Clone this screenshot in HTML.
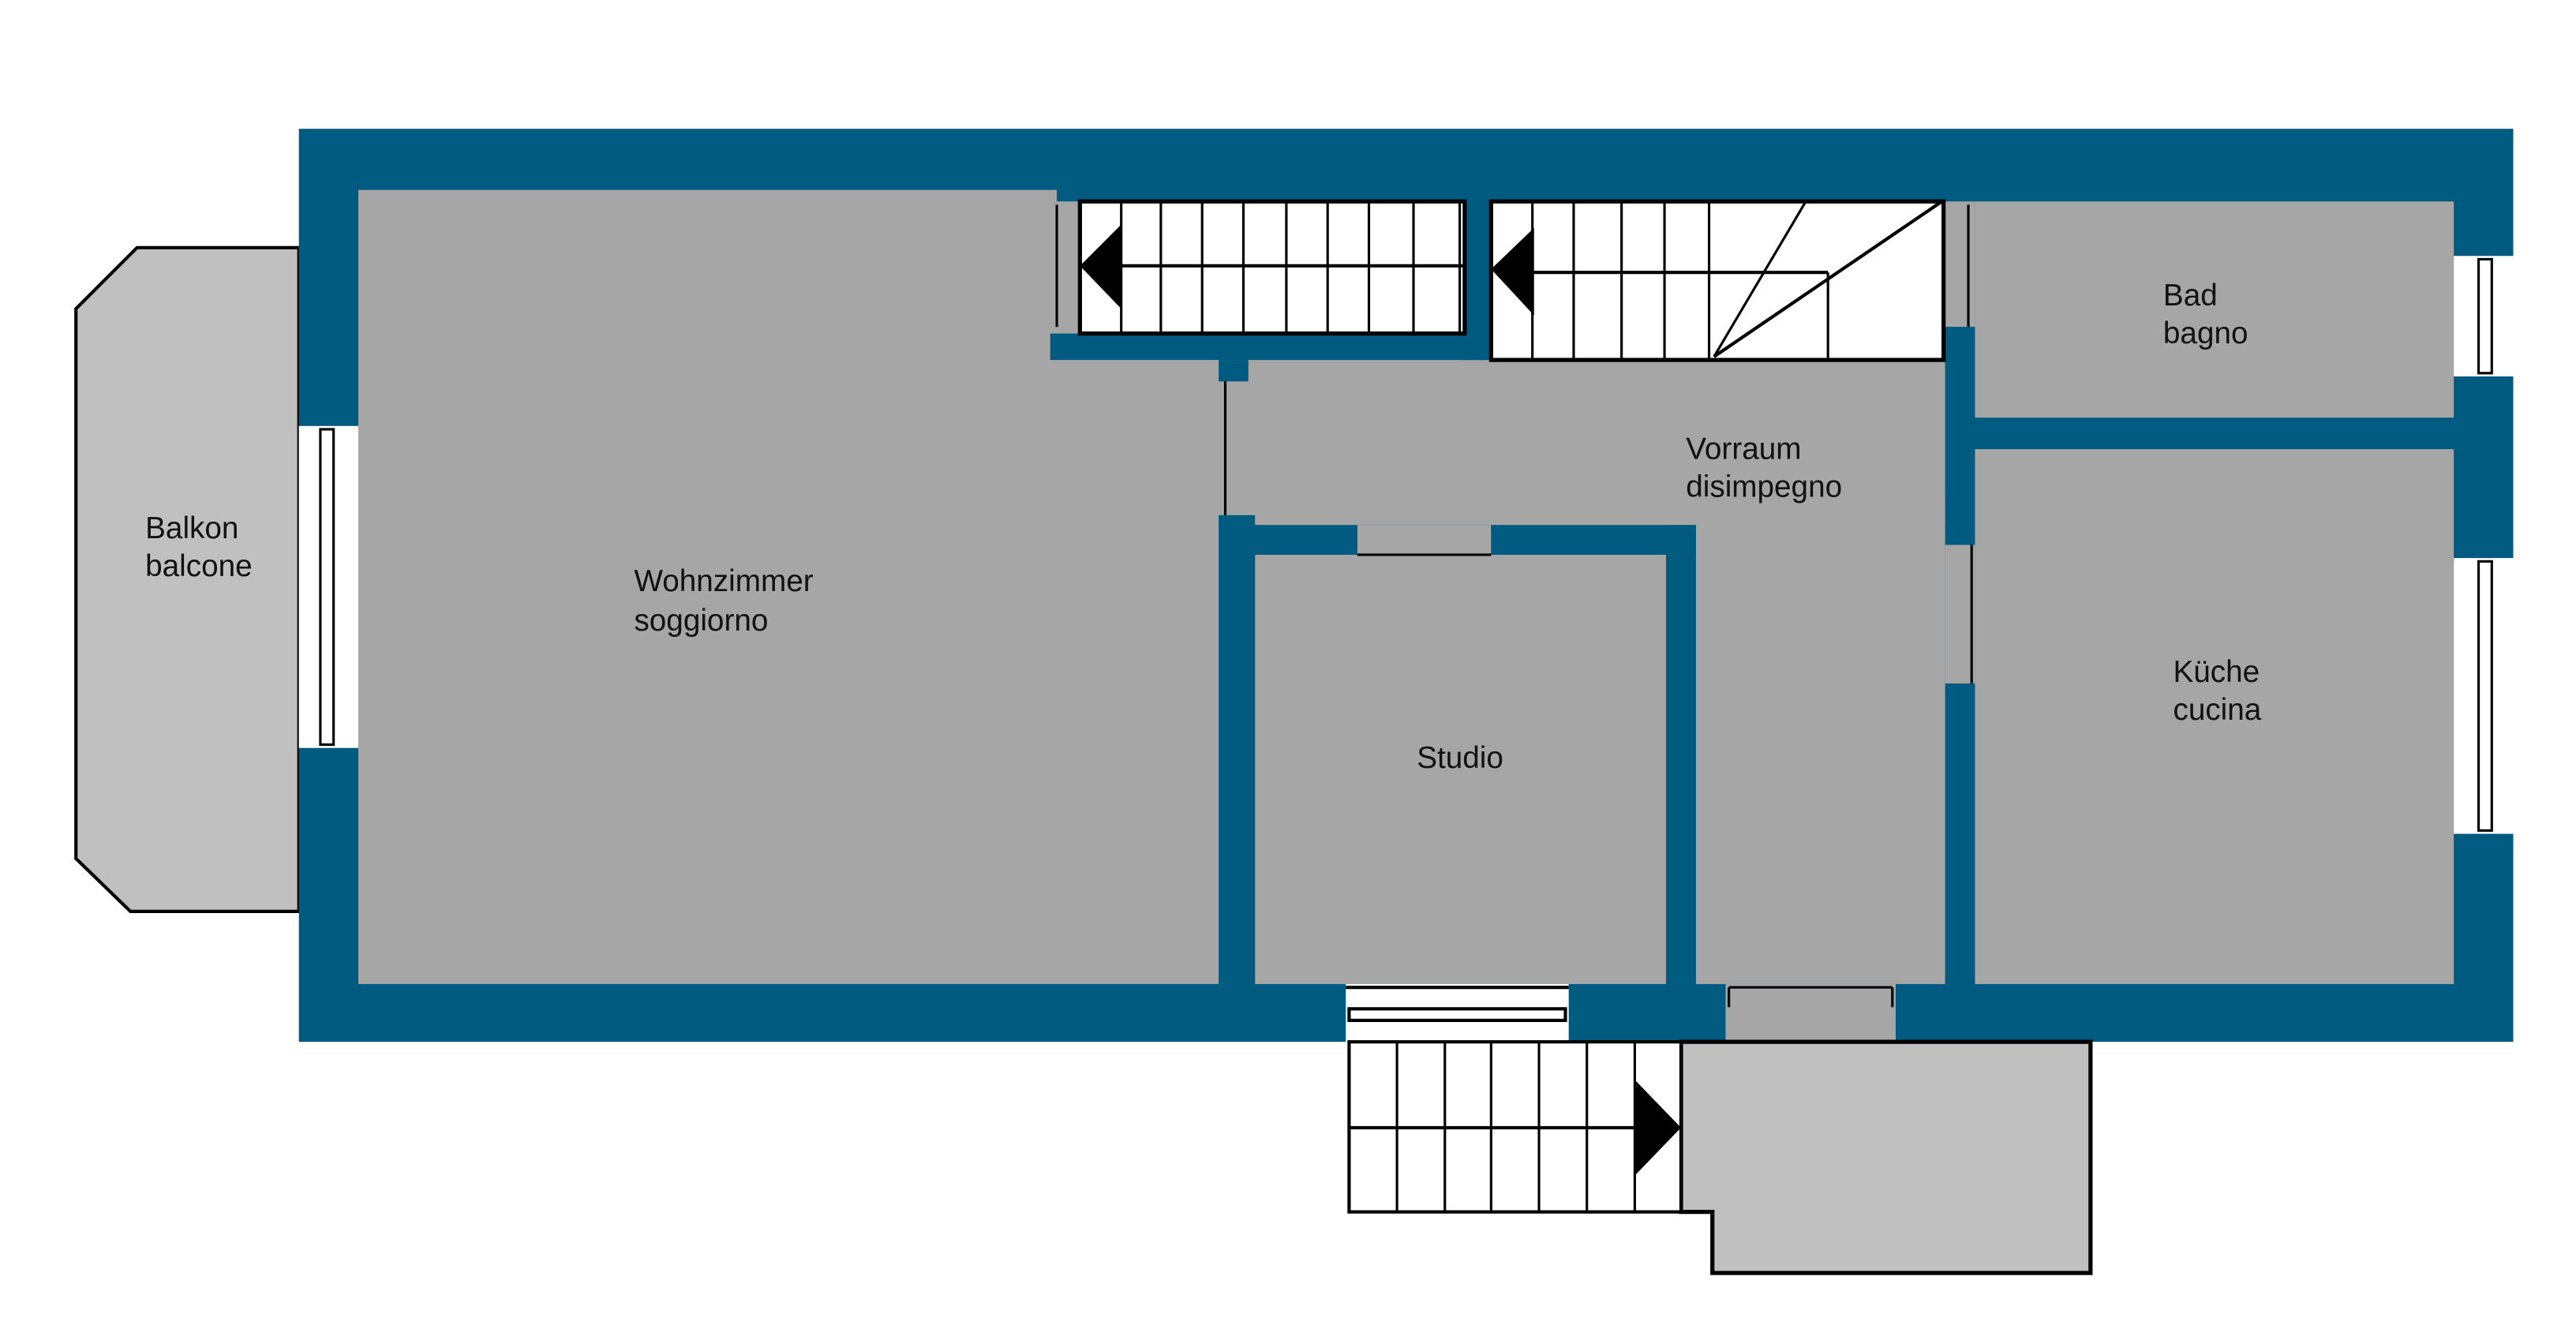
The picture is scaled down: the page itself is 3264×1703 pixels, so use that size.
<!DOCTYPE html>
<html><head><meta charset="utf-8"><style>html,body{margin:0;padding:0;background:#fff}svg{display:block}</style></head><body>
<svg width="3264" height="1703" viewBox="0 0 1560 814" preserveAspectRatio="none" xmlns="http://www.w3.org/2000/svg">
<rect width="1560" height="814" fill="#fff"/>
<polygon points="181,150 83,150 46,187 46,520 79,552 181,552" fill="#c0c0c0" stroke="#000" stroke-width="2"/>
<rect x="181" y="78" width="1341" height="553" fill="#015a7f"/>
<g fill="#a6a6a6">
<polygon points="217,115 640,115 640,122 653,122 653,210 742,210 742,596 217,596"/>
<rect x="742" y="218" width="436" height="100"/>
<rect x="1027" y="300" width="151" height="296"/>
<rect x="822" y="318" width="81" height="18"/>
<rect x="760" y="336" width="249" height="260"/>
<rect x="1178" y="122" width="18" height="76"/>
<rect x="1178" y="330" width="18" height="84"/>
<rect x="1196" y="122" width="290" height="131"/>
<rect x="1196" y="272" width="290" height="324"/>
<rect x="1045" y="596" width="103" height="35"/>
</g>
<g fill="#015a7f">
<rect x="636" y="202" width="265" height="16"/>
<rect x="738" y="218" width="18" height="13"/>
<rect x="738" y="312" width="22" height="284"/>
<rect x="742" y="318" width="80" height="18"/>
<rect x="903" y="318" width="124" height="18"/>
<rect x="1009" y="318" width="18" height="278"/>
<rect x="1178" y="198" width="18" height="132"/>
<rect x="1178" y="414" width="18" height="182"/>
<rect x="1196" y="253" width="290" height="19"/>
<rect x="885" y="115" width="18" height="103"/>
</g>
<g stroke="#000" stroke-width="1.5" fill="none">
<line x1="742" y1="231" x2="742" y2="312"/>
<line x1="822" y1="336" x2="903" y2="336"/>
<line x1="1194" y1="330" x2="1194" y2="414"/>
<line x1="640" y1="124" x2="640" y2="198"/>
<line x1="1192" y1="124" x2="1192" y2="198"/>
<line x1="1047" y1="598" x2="1146" y2="598"/>
<line x1="1047" y1="598" x2="1047" y2="610"/>
<line x1="1146" y1="598" x2="1146" y2="610"/>
</g>
<rect x="181" y="258" width="36" height="195" fill="#fff"/>
<rect x="194" y="260" width="8" height="191" fill="none" stroke="#000" stroke-width="1.5"/>
<rect x="1486" y="155" width="36" height="73" fill="#fff"/>
<rect x="1501" y="157" width="8" height="69" fill="none" stroke="#000" stroke-width="1.5"/>
<rect x="1486" y="338" width="36" height="167" fill="#fff"/>
<rect x="1501" y="340" width="8" height="163" fill="none" stroke="#000" stroke-width="1.5"/>
<rect x="815" y="596" width="135" height="35" fill="#fff"/>
<line x1="815" y1="598" x2="950" y2="598" stroke="#000" stroke-width="2"/>
<rect x="817" y="611" width="131" height="7" fill="none" stroke="#000" stroke-width="2"/>
<rect x="654" y="122" width="233" height="80" fill="#fff" stroke="#000" stroke-width="2.5"/>
<g stroke="#000" stroke-width="1.5">
<line x1="679" y1="122" x2="679" y2="202"/><line x1="703" y1="122" x2="703" y2="202"/><line x1="728" y1="122" x2="728" y2="202"/><line x1="753" y1="122" x2="753" y2="202"/><line x1="779" y1="122" x2="779" y2="202"/><line x1="804" y1="122" x2="804" y2="202"/><line x1="829" y1="122" x2="829" y2="202"/><line x1="856" y1="122" x2="856" y2="202"/><line x1="884" y1="122" x2="884" y2="202"/>
<line x1="679" y1="161" x2="887" y2="161" stroke-width="2"/>
</g>
<polygon points="654,161 679,136 679,187" fill="#000"/>
<rect x="903" y="122" width="274" height="96" fill="#fff" stroke="#000" stroke-width="2.5"/>
<g stroke="#000" stroke-width="1.5">
<line x1="928" y1="122" x2="928" y2="218"/><line x1="953" y1="122" x2="953" y2="218"/><line x1="982" y1="122" x2="982" y2="218"/><line x1="1008" y1="122" x2="1008" y2="218"/><line x1="1035" y1="122" x2="1035" y2="218"/>
<line x1="1107" y1="165" x2="1107" y2="218"/>
<line x1="928" y1="165" x2="1107" y2="165" stroke-width="2"/>
<line x1="1038" y1="216" x2="1093" y2="123"/>
<line x1="1038" y1="216" x2="1176" y2="122" stroke-width="2"/>
</g>
<polygon points="903,163 929,138 929,191" fill="#000"/>
<polygon points="1018,631 1266,631 1266,771 1037,771 1037,734 1018,734" fill="#c0c0c0" stroke="#000" stroke-width="2.5"/>
<rect x="817" y="631" width="201" height="103" fill="#fff" stroke="#000" stroke-width="2"/>
<g stroke="#000" stroke-width="1.5">
<line x1="846" y1="631" x2="846" y2="734"/><line x1="875" y1="631" x2="875" y2="734"/><line x1="903" y1="631" x2="903" y2="734"/><line x1="932" y1="631" x2="932" y2="734"/><line x1="961" y1="631" x2="961" y2="734"/><line x1="990" y1="631" x2="990" y2="734"/>
<line x1="817" y1="683" x2="990" y2="683" stroke-width="2"/>
</g>
<polygon points="990,654 1018,683 990,712" fill="#000"/>
<g font-family="Liberation Sans, sans-serif" font-size="18.5" fill="#111">
<text x="88" y="326">Balkon</text><text x="88" y="349">balcone</text>
<text x="384" y="358">Wohnzimmer</text><text x="384" y="382">soggiorno</text>
<text x="1021" y="278">Vorraum</text><text x="1021" y="301">disimpegno</text>
<text x="858" y="465">Studio</text>
<text x="1310" y="185">Bad</text><text x="1310" y="208">bagno</text>
<text x="1316" y="413">Küche</text><text x="1316" y="436">cucina</text>
</g>
</svg>
</body></html>
